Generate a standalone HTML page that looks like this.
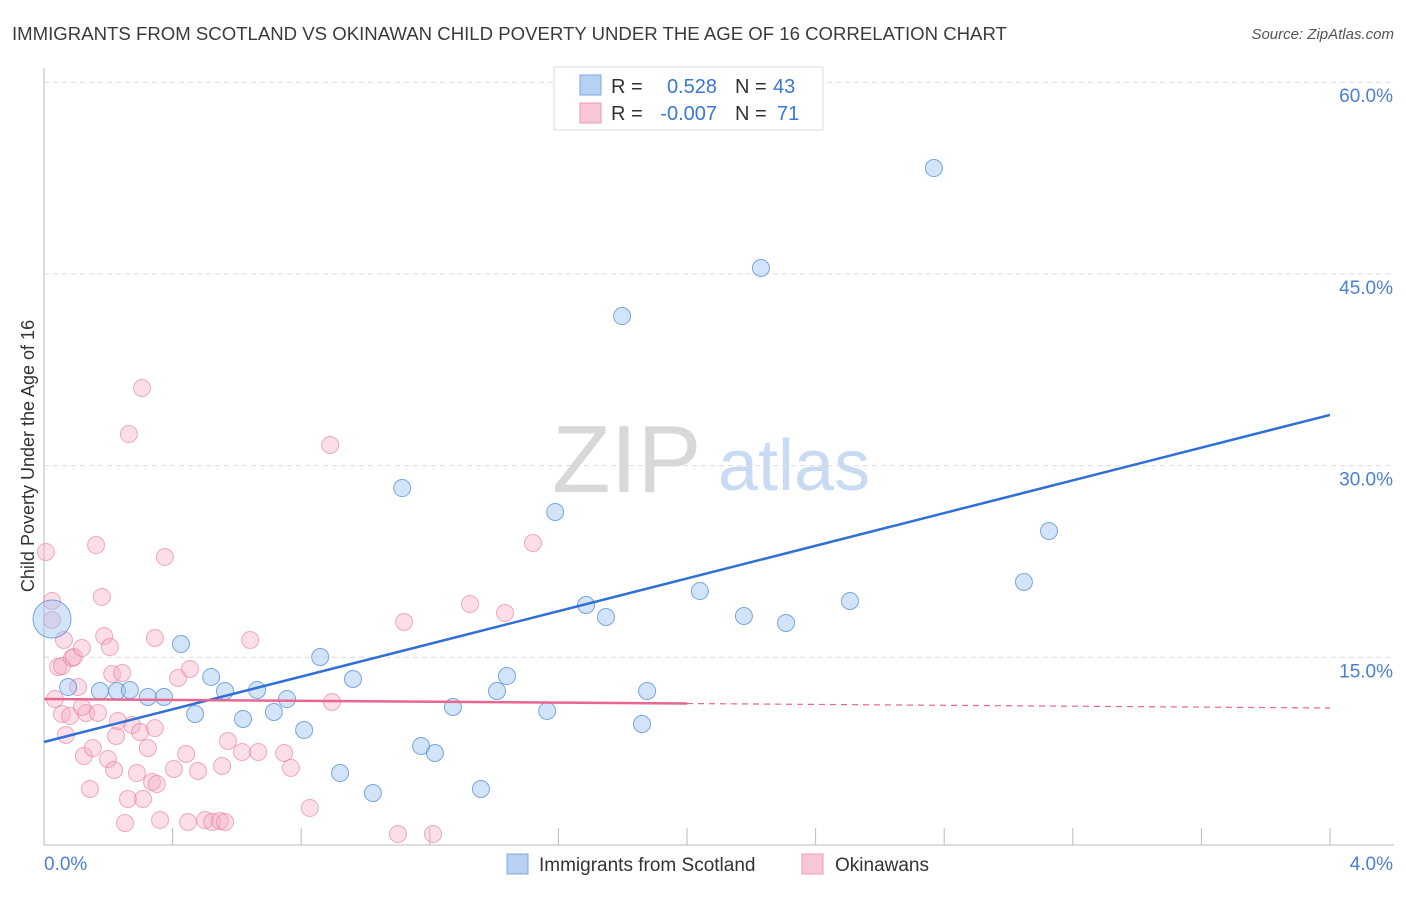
<!DOCTYPE html>
<html><head><meta charset="utf-8"><style>
body{margin:0;background:#fff;font-family:"Liberation Sans",sans-serif;}
svg text{font-family:"Liberation Sans",sans-serif;}
</style></head><body>
<svg id="chart" width="1406" height="892" xmlns="http://www.w3.org/2000/svg">
<text x="12" y="40" font-size="18.6" fill="#3b3b3b">IMMIGRANTS FROM SCOTLAND VS OKINAWAN CHILD POVERTY UNDER THE AGE OF 16 CORRELATION CHART</text>
<text x="1394" y="39" font-size="15" fill="#555" text-anchor="end" font-style="italic">Source: ZipAtlas.com</text>
<g>
<text x="552" y="492" font-size="96" font-family="Liberation Serif,serif" fill="#d8d8d8">ZIP</text>
<text x="718" y="490" font-size="72" fill="#c9dbf2">atlas</text>
</g>
<g id="grid"></g>
<g id="axes"></g>
<g id="pts"></g>
<g id="lines"></g>
<text transform="translate(34,456) rotate(-90)" font-size="18" fill="#333" text-anchor="middle">Child Poverty Under the Age of 16</text>
<g>
<rect x="554" y="67" width="269" height="63" fill="#fff" stroke="#ddd"/>
<rect x="580" y="75" width="21" height="20" fill="#b7d1f3" stroke="#7fa8e0"/>
<rect x="580" y="103" width="21" height="20" fill="#f9c6d5" stroke="#ec9ab4"/>
<text x="611" y="93" font-size="20" fill="#333">R =</text>
<text x="717" y="93" font-size="20" fill="#3b77d4" text-anchor="end">0.528</text>
<text x="735" y="93" font-size="20" fill="#333">N =</text>
<text x="773" y="93" font-size="20" fill="#3b77d4">43</text>
<text x="611" y="120" font-size="20" fill="#333">R =</text>
<text x="717" y="120" font-size="20" fill="#3b77d4" text-anchor="end">-0.007</text>
<text x="735" y="120" font-size="20" fill="#333">N =</text>
<text x="777" y="120" font-size="20" fill="#3b77d4">71</text>
</g>
<g>
<rect x="507" y="854" width="21" height="20" fill="#b7d1f3" stroke="#7fa8e0"/>
<text x="539" y="871" font-size="19" fill="#333">Immigrants from Scotland</text>
<rect x="802" y="854" width="21" height="20" fill="#f9c6d5" stroke="#ec9ab4"/>
<text x="835" y="871" font-size="19" fill="#333">Okinawans</text>
</g>
</svg>
<script>
const blueX=[.025,.075,.174,.227,.267,.323,.373,.426,.470,.520,.563,.619,.663,.715,.756,.809,.859,.921,.961,1.023,1.114,1.173,1.216,1.272,1.359,1.409,1.440,1.565,1.590,1.686,1.748,1.798,1.860,1.876,2.040,2.177,2.230,2.308,2.507,2.768,3.048,3.126];
const blueY=[17.68,12.36,12.05,12.05,12.13,11.58,11.58,15.73,10.25,13.15,12.05,9.86,12.13,10.41,11.42,9.00,14.71,5.63,12.99,4.07,27.93,7.75,7.20,10.80,4.38,12.05,13.22,10.49,26.06,18.78,17.84,41.39,9.47,12.05,19.87,17.92,45.15,17.37,19.09,52.97,20.58,24.57];
const pinkX=[.006,.025,.025,.034,.044,.056,.068,.056,.081,.087,.093,.106,.118,.124,.131,.143,.152,.162,.168,.180,.187,.199,.205,.212,.218,.224,.230,.243,.252,.261,.264,.274,.289,.299,.305,.308,.323,.336,.345,.351,.361,.345,.376,.404,.417,.442,.448,.454,.479,.501,.523,.554,.547,.563,.572,.616,.641,.666,.747,.768,.827,.890,.896,1.101,1.120,1.210,1.325,1.434,1.521,.118,.062];
const pinkY=[22.93,19.09,17.61,11.42,13.93,10.25,8.61,14.01,10.09,14.63,14.71,12.36,15.41,6.96,10.33,4.38,7.59,23.47,10.33,19.41,16.35,6.73,15.49,13.38,5.87,8.53,9.70,13.46,1.72,3.60,32.16,9.39,5.63,8.84,35.76,3.60,7.59,4.93,9.15,4.77,1.96,16.20,22.54,5.95,13.07,7.12,1.80,13.77,5.79,1.96,1.80,6.18,1.88,1.80,8.14,7.28,16.04,7.28,7.20,6.03,2.90,31.30,11.19,0.86,17.45,0.86,18.86,18.15,23.63,10.80,16.04];
const yTicks=[15,30,45,60];
const yTickLabels=["15.0%","30.0%","45.0%","60.0%"];
const xTickCount=10;
const blueTrend=[8.06,33.65];
const pinkTrend=[11.42,10.72];
const bigBubble=[0];

const NS="http://www.w3.org/2000/svg";
const X0=44,X1=1330,Y0=845,YPER=12.78;
const sx=v=>X0+(v/4)*(X1-X0);
const sy=v=>Y0-v*YPER;
function mk(tag,attrs,parent){const e=document.createElementNS(NS,tag);for(const k in attrs)e.setAttribute(k,attrs[k]);parent.appendChild(e);return e;}
const grid=document.getElementById('grid'),axes=document.getElementById('axes'),pts=document.getElementById('pts'),lines=document.getElementById('lines');
yTicks.forEach((t,i)=>{
 const l=mk('line',{x1:X0,x2:1394,y1:sy(t)+4,y2:sy(t)+4,stroke:'#dcdcdc','stroke-dasharray':'5,4'},grid);
 
 
 const tx=mk('text',{x:1393,y:sy(t)+24,'font-size':19,fill:'#4a80d0','text-anchor':'end'},axes);
 tx.textContent=yTickLabels[i];
 
 
});
let a=mk('line',{x1:X0,x2:X0,y1:68,y2:Y0,stroke:'#bbb'},axes);


a=mk('line',{x1:X0,x2:1394,y1:Y0,y2:Y0,stroke:'#bbb'},axes);


for(let i=1;i<=xTickCount;i++){
 const x=sx(4*i/xTickCount);
 const t=mk('line',{x1:x,x2:x,y1:828,y2:Y0,stroke:'#bbb'},axes);
 
 
}
let xl=mk('text',{x:44,y:870,'font-size':19,fill:'#4a80d0'},axes);xl.textContent='0.0%';


xl=mk('text',{x:1393,y:870,'font-size':19,fill:'#4a80d0','text-anchor':'end'},axes);xl.textContent='4.0%';


pinkX.forEach((x,i)=>{
 const c=mk('circle',{cx:sx(x),cy:sy(pinkY[i]),r:8.5,fill:'rgba(246,172,196,0.4)',stroke:'rgba(232,120,158,0.6)','stroke-width':1},pts);
 
 
});
blueX.forEach((x,i)=>{
 const big=bigBubble.includes(i);
 const c=mk('circle',{cx:sx(x),cy:sy(blueY[i]),r:big?19:8.5,fill:'rgba(160,196,240,0.45)',stroke:'rgba(80,140,215,0.75)','stroke-width':1},pts);
 
 
});
let ln=mk('line',{x1:sx(0),y1:sy(blueTrend[0]),x2:sx(4),y2:sy(blueTrend[1]),stroke:'#2f6fd6','stroke-width':2.5},lines);


const xm=2.0,pm=pinkTrend[0]+(pinkTrend[1]-pinkTrend[0])*xm/4;
ln=mk('line',{x1:sx(0),y1:sy(pinkTrend[0]),x2:sx(xm),y2:sy(pm),stroke:'#e8668f','stroke-width':2.5},lines);


ln=mk('line',{x1:sx(xm),y1:sy(pm),x2:sx(4),y2:sy(pinkTrend[1]),stroke:'#e8668f','stroke-width':1.2,'stroke-dasharray':'6,5'},lines);


</script>
</body></html>
